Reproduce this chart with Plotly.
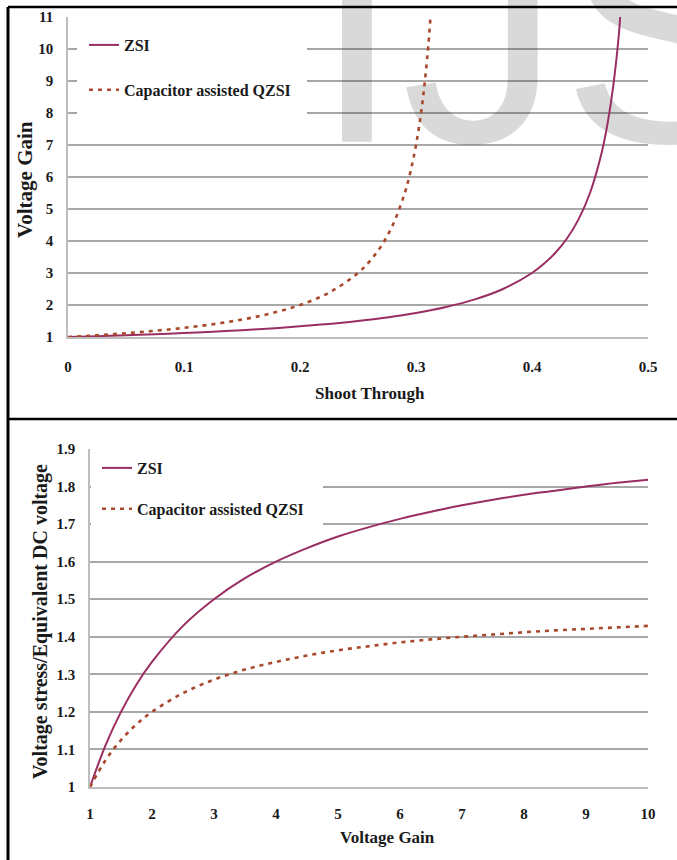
import plotly.graph_objects as go

# ---------------- data ----------------
series_names = ["ZSI", "Capacitor assisted QZSI"]

# Top panel: Voltage Gain vs Shoot Through
zsi_shoot = [0, 0.025, 0.05, 0.075, 0.1, 0.125, 0.15, 0.175, 0.2, 0.225, 0.25, 0.275,
             0.3, 0.325, 0.35, 0.375, 0.4, 0.41, 0.42, 0.43, 0.44, 0.45, 0.46, 0.465,
             0.47, 0.475, 0.476]
zsi_gain = [1.0, 1.026, 1.056, 1.088, 1.125, 1.167, 1.214, 1.269, 1.333, 1.409, 1.5, 1.611,
            1.75, 1.929, 2.167, 2.5, 3.0, 3.278, 3.625, 4.071, 4.667, 5.5, 6.75, 7.643,
            8.833, 10.5, 11.0]
qzsi_shoot = [0, 0.025, 0.05, 0.075, 0.1, 0.125, 0.15, 0.175, 0.2, 0.225, 0.25, 0.26,
              0.27, 0.28, 0.29, 0.295, 0.3, 0.305, 0.31, 0.3125]
qzsi_gain = [1.0, 1.054, 1.118, 1.194, 1.286, 1.4, 1.545, 1.737, 2.0, 2.385, 3.0, 3.364,
             3.842, 4.5, 5.462, 6.13, 7.0, 8.176, 9.857, 11.0]

# Bottom panel: Voltage stress / Equivalent DC voltage vs Voltage Gain
gain_values = [1, 1.25, 1.5, 1.75, 2, 2.5, 3, 3.5, 4, 4.5, 5, 5.5, 6, 6.5, 7, 7.5, 8,
               8.5, 9, 9.5, 10]
zsi_stress = [1.0, 1.111, 1.2, 1.273, 1.333, 1.429, 1.5, 1.556, 1.6, 1.636, 1.667, 1.692,
              1.714, 1.733, 1.75, 1.765, 1.778, 1.789, 1.8, 1.81, 1.818]
qzsi_stress = [1.0, 1.071, 1.125, 1.167, 1.2, 1.25, 1.286, 1.313, 1.333, 1.35, 1.364,
               1.375, 1.385, 1.393, 1.4, 1.406, 1.412, 1.417, 1.421, 1.425, 1.429]

top_xticks = [0, 0.1, 0.2, 0.3, 0.4, 0.5]
top_yticks = [1, 2, 3, 4, 5, 6, 7, 8, 9, 10, 11]
bot_xticks = [1, 2, 3, 4, 5, 6, 7, 8, 9, 10]
bot_yticks = [1, 1.1, 1.2, 1.3, 1.4, 1.5, 1.6, 1.7, 1.8, 1.9]

# ---------------- styling ----------------
W, H = 677, 860
SERIF = "Liberation Serif"
ZSI_COLOR = "#9a2d62"
QZSI_COLOR = "#a9482c"
GRID = "#a8a8a8"


def px(x):
    return x / W


def py(y):
    return 1 - y / H


fig = go.Figure()

# watermark (drawn first so curves sit on top of it)
fig.add_trace(go.Scatter(
    x=[0.41], y=[9.6], mode="text", text=["IJS"],
    textfont=dict(family="Liberation Sans", size=320, color="rgba(0,0,0,0.15)"),
    textposition="middle center", cliponaxis=False, showlegend=False,
    hoverinfo="skip", xaxis="x", yaxis="y"))

fig.add_trace(go.Scatter(
    x=zsi_shoot, y=zsi_gain, mode="lines", name=series_names[0],
    line=dict(color=ZSI_COLOR, width=2, shape="spline"),
    legendgroup="a", legend="legend", xaxis="x", yaxis="y"))
fig.add_trace(go.Scatter(
    x=qzsi_shoot, y=qzsi_gain, mode="lines", name=series_names[1],
    line=dict(color=QZSI_COLOR, width=2.6, dash="4px,5px", shape="spline"),
    legendgroup="b", legend="legend", xaxis="x", yaxis="y"))

fig.add_trace(go.Scatter(
    x=gain_values, y=zsi_stress, mode="lines", name=series_names[0],
    line=dict(color=ZSI_COLOR, width=2, shape="spline"),
    legendgroup="c", legend="legend2", xaxis="x2", yaxis="y2"))
fig.add_trace(go.Scatter(
    x=gain_values, y=qzsi_stress, mode="lines", name=series_names[1],
    line=dict(color=QZSI_COLOR, width=2.6, dash="4px,5px", shape="spline"),
    legendgroup="d", legend="legend2", xaxis="x2", yaxis="y2"))

tick_font = dict(family=SERIF, size=15, color="#1a1a1a", weight="bold")
legend_font = dict(family=SERIF, size=16, color="#1a1a1a", weight="bold")
title_font = dict(family=SERIF, size=17, color="#1a1a1a", weight="bold")
ytitle_font = dict(family=SERIF, size=20, color="#1a1a1a", weight="bold")

axis_common = dict(showline=True, linecolor="#bdbdbd", linewidth=1.5,
                   zeroline=False, ticks="", tickfont=tick_font, fixedrange=True,
                   automargin=False)

# top panel: plot area x 68..648, y 17..337
fig.update_layout(
    xaxis=dict(domain=[px(68), px(648)], range=[0, 0.5], tickvals=top_xticks,
               showgrid=False, anchor="y", ticklabelstandoff=15, **axis_common),
    yaxis=dict(domain=[py(337), py(17)], range=[1, 11], tickvals=top_yticks,
               showgrid=True, gridcolor=GRID, gridwidth=1.5, anchor="x",
               ticklabelstandoff=10, **axis_common),
    xaxis2=dict(domain=[px(90), px(648)], range=[1, 10], tickvals=bot_xticks,
                showgrid=False, anchor="y2", ticklabelstandoff=12, **axis_common),
    yaxis2=dict(domain=[py(787), py(449)], range=[1, 1.9], tickvals=bot_yticks,
                showgrid=True, gridcolor=GRID, gridwidth=1.5, anchor="x2",
                ticklabelstandoff=10, **axis_common),
)

fig.update_layout(
    width=W, height=H,
    margin=dict(l=0, r=0, t=0, b=0, pad=0, autoexpand=False),
    paper_bgcolor="white", plot_bgcolor="white",
    legend=dict(x=px(84), y=py(28), xanchor="left", yanchor="top",
                bgcolor="rgba(0,0,0,0)", font=legend_font, tracegroupgap=21,
                itemwidth=30),
    legend2=dict(x=px(97), y=py(451), xanchor="left", yanchor="top",
                 bgcolor="rgba(0,0,0,0)", font=legend_font, tracegroupgap=17,
                 itemwidth=30),
)

shapes = [
    # white backgrounds behind the legends (hide gridlines)
    dict(type="rect", xref="paper", yref="paper", x0=px(77), x1=px(307),
         y0=py(125), y1=py(18), fillcolor="white", line=dict(width=0), layer="above"),
    dict(type="rect", xref="paper", yref="paper", x0=px(91), x1=px(323),
         y0=py(531), y1=py(455), fillcolor="white", line=dict(width=0), layer="above"),
    # outer frame and separator
    dict(type="line", xref="paper", yref="paper", x0=px(8), x1=1, y0=py(7), y1=py(7),
         line=dict(color="black", width=2.5)),
    dict(type="line", xref="paper", yref="paper", x0=px(8), x1=px(8), y0=py(7), y1=0,
         line=dict(color="black", width=3)),
    dict(type="line", xref="paper", yref="paper", x0=px(8), x1=1, y0=py(419), y1=py(419),
         line=dict(color="black", width=2.5)),
]
fig.update_layout(shapes=shapes)

annotations = [
    dict(text="Shoot Through", x=px(370), y=py(393), xref="paper", yref="paper",
         showarrow=False, font=title_font, xanchor="center", yanchor="middle"),
    dict(text="Voltage Gain", x=px(25), y=py(180), xref="paper", yref="paper",
         showarrow=False, font=dict(family=SERIF, size=21, color="#1a1a1a", weight="bold"),
         textangle=-90, xanchor="center", yanchor="middle"),
    dict(text="Voltage Gain", x=px(387), y=py(837), xref="paper", yref="paper",
         showarrow=False, font=title_font, xanchor="center", yanchor="middle"),
    dict(text="Voltage stress/Equivalent DC voltage", x=px(40), y=py(622),
         xref="paper", yref="paper", showarrow=False, font=ytitle_font,
         textangle=-90, xanchor="center", yanchor="middle"),
]
fig.update_layout(annotations=annotations)

fig.write_html("out.html")
